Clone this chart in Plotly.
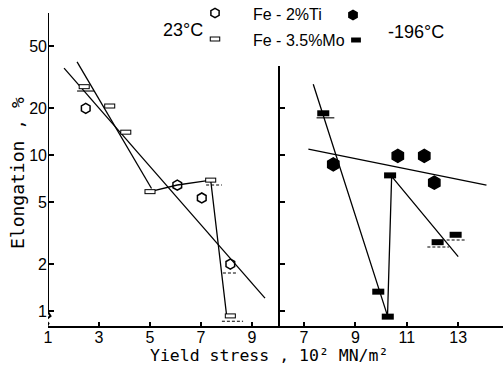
import plotly.graph_objects as go

# ---------------- data ----------------
# 23 °C (left panel)
ti23_x = [2.48, 6.07, 7.03, 8.15]
ti23_y = [19.9, 6.4, 5.3, 2.0]
mo23_x = [2.42, 3.42, 4.05, 5.0, 7.38, 8.15]
mo23_y = [27.4, 20.6, 14.0, 5.82, 6.9, 0.93]

# -196 °C (right panel)
ti196_x = [8.14, 10.65, 11.68, 12.07]
ti196_y = [8.7, 9.86, 9.86, 6.64]
mo196_x = [7.75, 9.89, 10.26, 10.35, 12.2, 12.9]
mo196_y = [18.5, 1.33, 0.92, 7.4, 2.76, 3.08]

# fitted / connecting lines
fit23_all_x = [1.63, 9.51]
fit23_all_y = [36.0, 1.21]
fit23_mo_x = [2.14, 5.06]
fit23_mo_y = [39.5, 6.1]
curve23_x = [5.0, 6.07, 7.38, 8.0]
curve23_y = [5.82, 6.42, 6.9, 0.95]
fit196_ti_x = [7.17, 14.1]
fit196_ti_y = [10.9, 6.4]
curve196_x = [7.36, 10.25, 10.41, 13.0]
curve196_y = [28.4, 0.93, 7.3, 2.23]

# short horizontal reference bars under some points
bar23_x0 = [2.14, 7.2, 7.86, 7.82]
bar23_x1 = [2.8, 7.82, 8.45, 8.65]
bar23_y = [25.7, 6.42, 1.75, 0.86]
bar23_dash = ["solid", "dash", "dash", "dash"]
bar196_x0 = [7.49, 11.8, 12.55]
bar196_x1 = [8.18, 12.64, 13.33]
bar196_y = [17.3, 2.57, 2.85]
bar196_dash = ["solid", "dash", "dash"]

x_left_ticks = [1, 3, 5, 7, 9]
x_right_ticks = [7, 9, 11, 13]
y_ticks = [1, 2, 5, 10, 20, 50]
y_ticks_right = [1, 2, 5, 10, 20]

# ---------------- figure ----------------
W, H = 503, 367
L, R, T, B = 48, 0, 13, 41
PW, PH = W - L - R, H - T - B
split = (279 - 48) / PW


def px(xp):
    return (xp - L) / PW


def py(yp):
    return (H - B - yp) / PH


fig = go.Figure()
BLACK = "black"
LW = 1.3


def add_line(x, y, xa, ya, dash="solid", width=LW):
    fig.add_trace(go.Scatter(x=x, y=y, mode="lines", xaxis=xa, yaxis=ya,
                             line=dict(color=BLACK, width=width, dash=dash),
                             showlegend=False, hoverinfo="skip"))


def add_open_rect(x, y, xa, ya, s=7.9):
    fig.add_trace(go.Scatter(x=x, y=y, mode="markers", xaxis=xa, yaxis=ya,
                             marker=dict(symbol="line-ew", size=s,
                                         line=dict(color=BLACK, width=5)),
                             showlegend=False, cliponaxis=False))
    fig.add_trace(go.Scatter(x=x, y=y, mode="markers", xaxis=xa, yaxis=ya,
                             marker=dict(symbol="line-ew", size=s - 1.45,
                                         line=dict(color="white", width=3)),
                             showlegend=False, cliponaxis=False))


def add_filled_rect(x, y, xa, ya, s=8.6, w=6):
    fig.add_trace(go.Scatter(x=x, y=y, mode="markers", xaxis=xa, yaxis=ya,
                             marker=dict(symbol="line-ew", size=s,
                                         line=dict(color=BLACK, width=w)),
                             showlegend=False, cliponaxis=False))


def add_hex(x, y, xa, ya, filled, s):
    fig.add_trace(go.Scatter(x=x, y=y, mode="markers", xaxis=xa, yaxis=ya,
                             marker=dict(symbol="hexagon" if filled else "hexagon-open",
                                         size=s, color=BLACK,
                                         line=dict(color=BLACK, width=1.5)),
                             showlegend=False, cliponaxis=False))


# left panel lines
add_line(fit23_all_x, fit23_all_y, "x", "y")
add_line(fit23_mo_x, fit23_mo_y, "x", "y")
add_line(curve23_x, curve23_y, "x", "y")
for x0, x1, yv, d in zip(bar23_x0, bar23_x1, bar23_y, bar23_dash):
    add_line([x0, x1], [yv, yv], "x", "y", dash=("3px,2px" if d == "dash" else "solid"), width=1.1)

# right panel lines
add_line(fit196_ti_x, fit196_ti_y, "x2", "y2")
add_line(curve196_x, curve196_y, "x2", "y2")
for x0, x1, yv, d in zip(bar196_x0, bar196_x1, bar196_y, bar196_dash):
    add_line([x0, x1], [yv, yv], "x2", "y2", dash=("3px,2px" if d == "dash" else "solid"), width=1.1)

# markers
add_hex(ti23_x, ti23_y, "x", "y", False, 10)
add_open_rect(mo23_x, mo23_y, "x", "y")
add_hex(ti196_x, ti196_y, "x2", "y2", True, 13)
add_filled_rect(mo196_x, mo196_y, "x2", "y2")

# legend keys on a pixel overlay axis
add_hex([215], [13], "x3", "y3", False, 9.5)
add_open_rect([215], [39], "x3", "y3", s=7.5)
add_hex([353], [15], "x3", "y3", True, 9.5)
add_filled_rect([356], [40], "x3", "y3", s=7, w=5)

tickfont = dict(family="Liberation Sans", size=16, color=BLACK)
ylog_range = [-0.0962, 1.910]

fig.update_layout(
    width=W, height=H,
    margin=dict(l=L, r=R, t=T, b=B),
    paper_bgcolor="white", plot_bgcolor="rgba(0,0,0,0)",
    showlegend=False,
    xaxis=dict(domain=[0, split], range=[1, 1 + 231 / 25.5], tickvals=x_left_ticks,
               ticks="inside", ticklen=4, tickwidth=1.5, tickcolor=BLACK,
               showline=True, linecolor=BLACK, linewidth=2, showgrid=False,
               zeroline=False, tickfont=tickfont, anchor="y", ticklabelstandoff=-4),
    yaxis=dict(domain=[0, 1], type="log", range=ylog_range, tickvals=y_ticks,
               ticktext=[str(v) for v in y_ticks],
               ticks="inside", ticklen=6, tickwidth=1.5, tickcolor=BLACK,
               showline=False, showgrid=False, zeroline=False, tickfont=tickfont,
               anchor="x"),
    xaxis2=dict(domain=[split, 1], range=[7 - 25 / 25.7, 7 + 199 / 25.7], tickvals=x_right_ticks,
                ticks="inside", ticklen=4, tickwidth=1.5, tickcolor=BLACK,
                showline=True, linecolor=BLACK, linewidth=2, showgrid=False,
                zeroline=False, tickfont=tickfont, anchor="y2", ticklabelstandoff=-4),
    yaxis2=dict(domain=[0, 1], type="log", range=ylog_range, tickvals=y_ticks_right,
                ticks="inside", ticklen=6, tickwidth=1.5, tickcolor=BLACK,
                showticklabels=False, showline=False, showgrid=False,
                zeroline=False, anchor="x2"),
    xaxis3=dict(domain=[0, 1], range=[L, W - R], visible=False, anchor="y3"),
    yaxis3=dict(domain=[0, 1], range=[H - B, T], visible=False, anchor="x3"),
)

# axis lines drawn in pixel space: left axis with break zig-zag, right axis
fig.add_shape(type="path", xref="x3", yref="y3",
              path="M48,13 L48,312 L50.5,316 L45.5,320 L48.5,323.5 L47,326.5",
              line=dict(color=BLACK, width=2))
fig.add_shape(type="line", xref="x3", yref="y3", x0=279, x1=279, y0=66, y1=326,
              line=dict(color=BLACK, width=2))


def label(xp, yp, text, size, family="Liberation Sans", xanchor="center", angle=0):
    fig.add_annotation(xref="paper", yref="paper", x=px(xp), y=py(yp), text=text,
                       showarrow=False, xanchor=xanchor, yanchor="middle",
                       textangle=angle,
                       font=dict(family=family, size=size, color=BLACK))


label(183, 30, "23°C", 18)
label(416, 32, "-196°C", 18)
label(251, 14, "Fe - 2%Ti", 16, xanchor="left")
label(251, 40, "Fe - 3.5%Mo", 16, xanchor="left")
label(17, 173, "Elongation , %", 18, family="DejaVu Sans Mono", angle=-90)
label(148, 355.5, "Yield stress , 10² MN/m²", 16.5, family="DejaVu Sans Mono", xanchor="left")

fig.write_html("out.html")
